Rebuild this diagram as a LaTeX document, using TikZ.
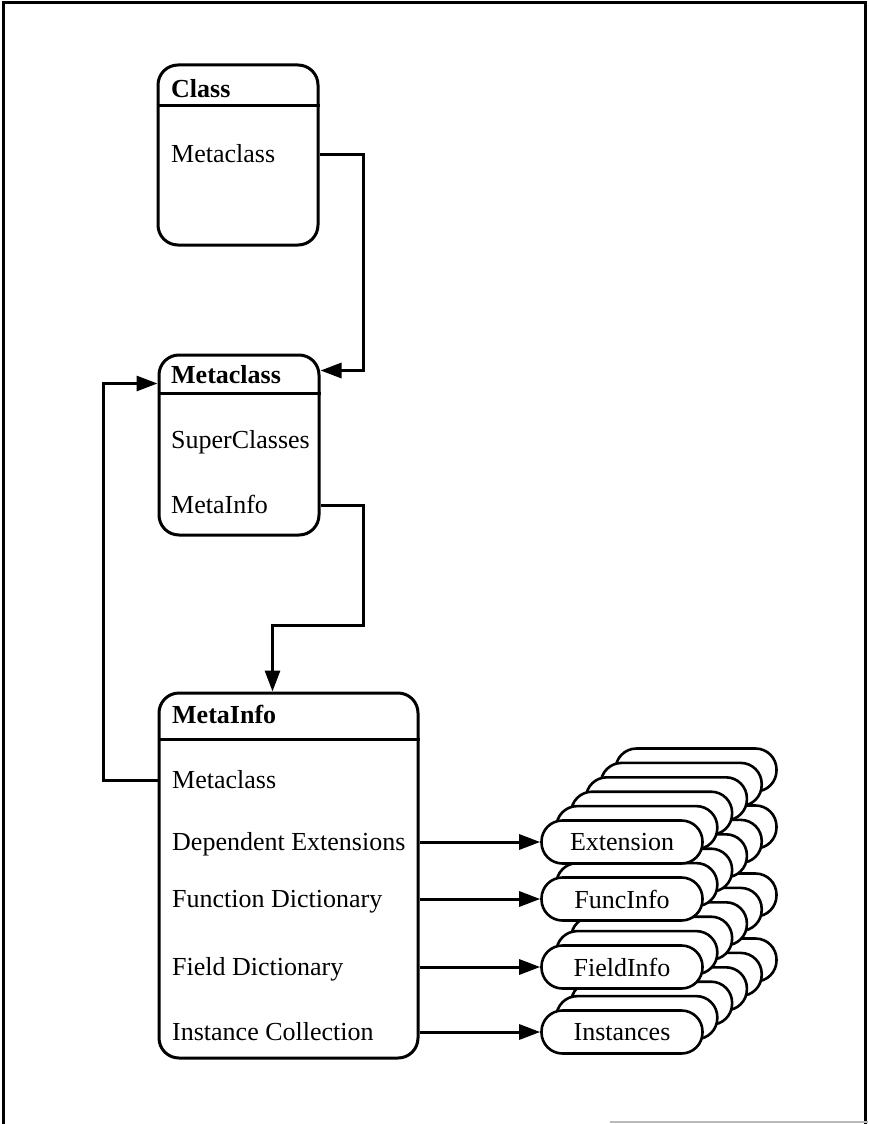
\documentclass[tikz,border=0pt]{standalone}
\usepackage{fontspec}
\setmainfont{Liberation Serif}
\usetikzlibrary{arrows.meta,positioning}

\begin{document}
\begin{tikzpicture}[
  x=1pt, y=-1pt,
  every node/.style={font=\fontsize{26}{30}\selectfont},
  classbox/.style={draw, line width=3pt, rounded corners=20pt, minimum width=160pt},
  headrule/.style={line width=2.6pt},
  title/.style={anchor=west, inner sep=0pt, text height=17pt, text depth=0pt,
                font=\fontsize{26}{30}\selectfont\bfseries},
  slot/.style={anchor=west, inner sep=0pt, text height=17pt, text depth=0pt},
  pill/.style={draw, fill=white, line width=2.6pt, rounded corners=21pt,
               minimum width=161pt, minimum height=43pt, inner sep=0pt},
  link/.style={line width=3pt, -{Triangle[length=21pt,width=15pt]}},
  frame/.style={line width=3pt}
]
  \useasboundingbox (0,0) rectangle (868,1124);
  \draw[frame] (3,1124) -- (3,3) -- (865,3) -- (865,1124);
  \draw[gray!55, line width=1.5pt] (610,1122) -- (868,1122);

  % the three boxes
  \node[classbox, minimum height=180pt] (class) at (238,155) {};
  \node[classbox, minimum height=180pt] (metaclass) at (239,445) {};
  \node[classbox, minimum width=259pt, minimum height=365pt] (metainfo) at (288.5,875.5) {};

  \draw[headrule] ([yshift=-42pt]class.north west) -- ([yshift=-42pt]class.north east);
  \draw[headrule] ([yshift=-40pt]metaclass.north west) -- ([yshift=-40pt]metaclass.north east);
  \draw[headrule] ([yshift=-48pt]metainfo.north west) -- ([yshift=-48pt]metainfo.north east);

  \node[title] (classname) at (171,89) {Class};
  \node[slot] (classmeta) at (171,154) {Metaclass};

  \node[title] (mcname) at (171,375) {Metaclass};
  \node[slot] (mcsuper) at (171,440) {SuperClasses};
  \node[slot] (mcinfo) at (171,505) {MetaInfo};

  \node[title] (miname) at (172,715) {MetaInfo};
  \node[slot] (mimeta) at (172,780) {Metaclass};
  \node[slot] (midep) at (172,842) {Dependent Extensions};
  \node[slot] (mifunc) at (172,899) {Function Dictionary};
  \node[slot] (mifield) at (172,967) {Field Dictionary};
  \node[slot] (miinst) at (172,1032) {Instance Collection};

  % stacks, lowest first
  \foreach \k in {5,...,1}
    \node[pill] at ({622+14.8*\k},{1032-14.4*\k}) {};
  \node[pill] (inst) at (622,1032) {Instances};
  \foreach \k in {5,...,1}
    \node[pill] at ({622+14.8*\k},{967-14.4*\k}) {};
  \node[pill] (field) at (622,967) {FieldInfo};
  \foreach \k in {5,...,1}
    \node[pill] at ({622+14.8*\k},{899-14.4*\k}) {};
  \node[pill] (func) at (622,899) {FuncInfo};
  \foreach \k in {5,...,1}
    \node[pill] at ({622+14.8*\k},{842-14.4*\k}) {};
  \node[pill] (ext) at (622,842) {Extension};

  % connectors
  \draw[link] (classmeta.east -| class.east) -- ++(44,0) |- ([yshift=-17pt]metaclass.north east);
  \draw[link] (mcinfo.east -| metaclass.east) -- ++(43,0) -- ++(0,120)
              -| ([xshift=115pt]metainfo.north west);
  \draw[link] (mimeta.west -| metainfo.west) -- ++(-54,0) |- ([yshift=-30pt]metaclass.north west);
  \draw[link] (midep.east -| metainfo.east) -- (ext.west);
  \draw[link] (mifunc.east -| metainfo.east) -- (func.west);
  \draw[link] (mifield.east -| metainfo.east) -- (field.west);
  \draw[link] (miinst.east -| metainfo.east) -- (inst.west);
\end{tikzpicture}
\end{document}
